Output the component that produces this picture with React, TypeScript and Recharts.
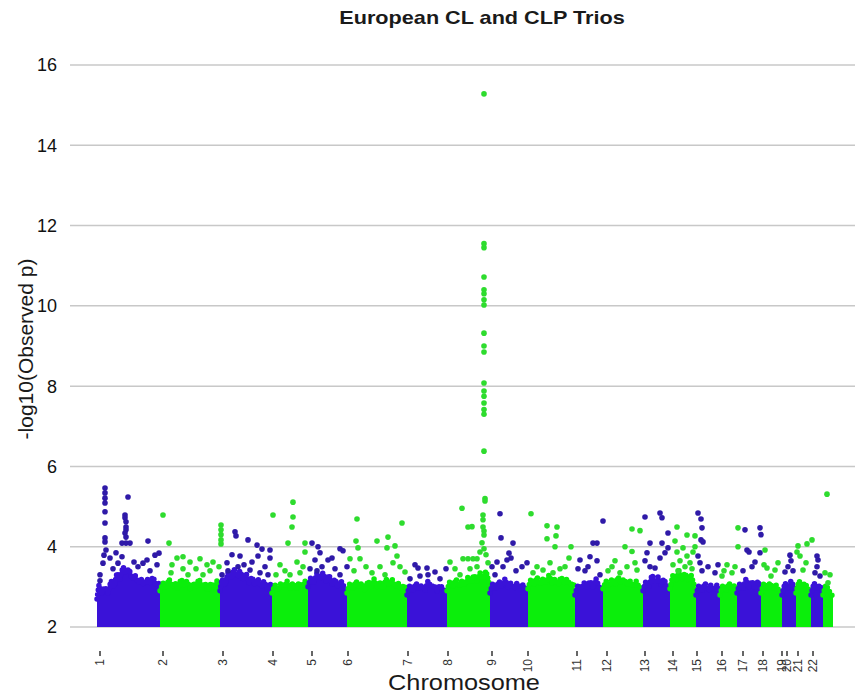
import React from "react";
import { ComposedChart, Area, Scatter, XAxis, YAxis, CartesianGrid } from "recharts";

const PURPLE = "#3a12d8";
const PURPLE_DOT = "#2f1aa8";
const GREEN = "#0bee0b";
const GREEN_DOT = "#2edc2e";

const chromosomes = [
  "1", "2", "3", "4", "5", "6", "7", "8", "9", "10", "11",
  "12", "13", "14", "15", "16", "17", "18", "19", "20", "21", "22",
];
// cumulative position of each chromosome label (genome index units)
const chrTicks = [
  100, 163, 223, 273, 312, 348, 408, 448, 492, 528, 577,
  607, 645, 673, 697, 722, 743, 763, 782, 787, 798, 813,
];
const yTicks = [2, 4, 6, 8, 10, 12, 14, 16];

// upper edge of the dense SNP cloud in each chromosome: [position, -log10 p]
const cloudTops: [number, number][][] = [
  [[97, 2.7], [99, 3.05], [102, 2.85], [105, 3.0], [108, 2.85], [111, 3.15], [114, 3.0], [117, 3.35], [120, 3.2], [123, 3.5], [126, 3.35], [129, 3.45], [132, 3.2], [135, 3.3], [138, 3.1], [141, 3.2], [144, 3.05], [147, 3.2], [150, 3.1], [153, 3.25], [156, 3.05], [160, 3.1]],
  [[160, 2.9], [163, 3.1], [166, 2.95], [169, 3.2], [172, 3.0], [175, 3.1], [178, 2.95], [181, 3.2], [184, 3.05], [187, 3.15], [190, 2.95], [193, 3.1], [196, 3.0], [199, 3.2], [202, 3.0], [205, 3.1], [208, 2.9], [211, 3.1], [214, 3.0], [217, 3.15], [220, 2.95]],
  [[220, 2.9], [222, 3.2], [225, 3.05], [228, 3.35], [231, 3.2], [234, 3.45], [237, 3.25], [240, 3.4], [243, 3.2], [246, 3.35], [249, 3.1], [252, 3.25], [255, 3.05], [258, 3.2], [261, 3.0], [264, 3.15], [267, 2.95], [270, 3.1], [272, 2.9]],
  [[272, 2.85], [275, 3.05], [278, 2.9], [281, 3.1], [284, 3.0], [287, 3.15], [290, 2.95], [293, 3.1], [296, 2.95], [299, 3.1], [302, 3.0], [305, 3.15], [308, 2.9]],
  [[308, 3.0], [311, 3.25], [314, 3.1], [317, 3.35], [320, 3.2], [323, 3.35], [326, 3.15], [329, 3.3], [332, 3.05], [335, 3.2], [338, 3.0], [341, 3.15], [344, 3.0], [347, 2.9]],
  [[347, 2.85], [350, 3.1], [353, 2.95], [356, 3.15], [359, 3.0], [362, 3.1], [365, 2.9], [368, 3.15], [371, 3.0], [374, 3.2], [377, 3.0], [380, 3.1], [383, 2.95], [386, 3.2], [389, 3.05], [392, 3.2], [395, 3.0], [398, 3.1], [401, 2.95], [404, 3.05], [407, 2.9]],
  [[407, 2.8], [410, 3.05], [413, 2.9], [416, 3.1], [419, 2.95], [422, 3.05], [425, 2.9], [428, 3.15], [431, 3.0], [434, 3.05], [437, 2.9], [440, 3.05], [443, 2.95], [447, 2.85]],
  [[447, 2.9], [450, 3.15], [453, 3.0], [456, 3.2], [459, 3.0], [462, 3.15], [465, 3.05], [468, 3.25], [471, 3.1], [474, 3.3], [477, 3.15], [480, 3.35], [483, 3.2], [486, 3.4], [490, 3.0]],
  [[490, 2.85], [493, 3.1], [496, 2.95], [499, 3.15], [502, 3.0], [505, 3.2], [508, 3.0], [511, 3.1], [514, 2.95], [517, 3.1], [520, 3.0], [523, 3.05], [526, 2.95], [528, 2.85]],
  [[528, 2.95], [531, 3.2], [534, 3.05], [537, 3.25], [540, 3.05], [543, 3.2], [546, 3.1], [549, 3.3], [552, 3.1], [555, 3.2], [558, 3.05], [561, 3.25], [564, 3.1], [567, 3.2], [570, 3.05], [573, 3.1], [575, 2.95]],
  [[575, 2.8], [578, 3.05], [581, 2.95], [584, 3.1], [587, 3.0], [590, 3.15], [593, 3.0], [596, 3.2], [599, 3.0], [603, 2.9]],
  [[603, 2.95], [606, 3.15], [609, 3.0], [612, 3.2], [615, 3.05], [618, 3.25], [621, 3.1], [624, 3.2], [627, 3.05], [630, 3.15], [633, 3.0], [636, 3.15], [639, 3.0], [643, 2.95]],
  [[643, 2.9], [646, 3.15], [649, 3.0], [652, 3.3], [655, 3.1], [658, 3.25], [661, 3.05], [664, 3.2], [667, 3.0], [670, 2.9]],
  [[670, 2.95], [673, 3.3], [676, 3.15], [679, 3.4], [682, 3.2], [685, 3.35], [688, 3.15], [691, 3.3], [694, 3.05], [696, 3.0]],
  [[696, 2.8], [699, 3.05], [702, 2.9], [705, 3.1], [708, 2.9], [711, 3.05], [714, 2.9], [717, 3.05], [720, 2.85]],
  [[720, 2.8], [723, 3.05], [726, 2.9], [729, 3.1], [732, 2.95], [735, 3.05], [737, 2.85]],
  [[737, 2.85], [740, 3.1], [743, 2.95], [746, 3.2], [749, 3.0], [752, 3.15], [755, 2.95], [758, 3.15], [761, 2.9]],
  [[761, 2.85], [764, 3.1], [767, 2.95], [770, 3.1], [773, 2.95], [776, 3.05], [779, 2.9], [782, 2.85]],
  [[782, 2.8], [785, 3.1], [788, 2.95], [791, 3.15], [794, 3.0], [796, 2.9]],
  [[796, 2.85], [799, 3.15], [802, 3.0], [805, 3.1], [808, 2.95], [811, 2.9]],
  [[811, 2.8], [814, 3.1], [817, 2.95], [820, 3.05], [823, 2.85]],
  [[823, 2.8], [826, 3.05], [829, 2.9], [833, 2.75]],
];

// SNPs standing out of the cloud, odd chromosomes
const purpleHits: [number, number][] = [
  // chr1
  [105, 5.46], [105, 5.34], [105, 5.21], [105, 5.09], [105, 4.87], [105, 4.59], [105, 4.22], [105, 4.12],
  [106, 3.92], [104, 3.79], [103, 3.59], [110, 3.72], [128, 5.24], [125, 4.79], [125, 4.72], [126, 4.62],
  [126, 4.49], [126, 4.42], [125, 4.34], [126, 4.24], [122, 4.09], [126, 4.09], [130, 4.09], [148, 4.14],
  [159, 3.84], [155, 3.79], [147, 3.67], [143, 3.59], [138, 3.5], [118, 3.59], [113, 3.45], [100, 3.3],
  [150, 3.4], [157, 3.55], [134, 3.62], [122, 3.75], [100, 3.15], [116, 3.85],
  // chr3
  [235, 4.37], [236, 4.27], [248, 4.17], [257, 4.04], [262, 3.94], [270, 3.92], [232, 3.8], [240, 3.77],
  [258, 3.77], [270, 3.72], [227, 3.6], [244, 3.55], [252, 3.62], [265, 3.5], [228, 3.4], [238, 3.5],
  [250, 3.42], [260, 3.35], [268, 3.3], [222, 3.3],
  // chr5
  [312, 4.09], [318, 4.0], [320, 3.85], [340, 3.95], [343, 3.9], [332, 3.72], [328, 3.67], [315, 3.67],
  [322, 3.5], [347, 3.5], [317, 3.4], [335, 3.45], [310, 3.45], [340, 3.3],
  // chr7
  [415, 3.55], [418, 3.47], [427, 3.47], [435, 3.37], [446, 3.45], [428, 3.3], [420, 3.27], [410, 3.2], [440, 3.2],
  // chr9
  [500, 4.82], [501, 4.22], [513, 4.09], [509, 3.84], [511, 3.72], [507, 3.67], [492, 3.5], [522, 3.5],
  [527, 3.6], [495, 3.3], [503, 3.5], [516, 3.4], [497, 3.62],
  // chr11
  [603, 4.64], [593, 4.09], [597, 4.09], [597, 3.65], [588, 3.5], [580, 3.67], [578, 3.45], [585, 3.4],
  [600, 3.3], [590, 3.75],
  // chr13
  [645, 4.74], [660, 4.84], [662, 4.72], [668, 4.34], [650, 4.09], [662, 4.09], [668, 3.97], [645, 3.65],
  [660, 3.72], [655, 3.47], [665, 3.85], [650, 3.5], [647, 3.85],
  // chr15
  [698, 4.84], [701, 4.69], [702, 4.47], [701, 4.17], [703, 4.12], [698, 3.77], [702, 3.4], [715, 3.35],
  [718, 3.55], [708, 3.5], [700, 3.6],
  // chr17
  [745, 4.42], [760, 4.47], [761, 4.3], [747, 3.92], [749, 3.87], [760, 3.85], [755, 3.62], [743, 3.4], [752, 3.5],
  // chr19, chr21
  [790, 3.79], [791, 3.65], [785, 3.37], [793, 3.4], [788, 3.5],
  [818, 3.67], [815, 3.35], [820, 3.27], [817, 3.5], [817, 3.77],
];

// SNPs standing out of the cloud, even chromosomes (incl. the 8q24 peak)
const greenHits: [number, number][] = [
  // chr2
  [163, 4.79], [169, 4.09], [221, 4.54], [221, 4.42], [221, 4.3], [221, 4.17], [221, 4.07], [172, 3.55],
  [177, 3.72], [183, 3.75], [190, 3.62], [200, 3.7], [207, 3.55], [213, 3.62], [183, 3.45], [196, 3.45],
  [171, 3.35], [210, 3.4], [219, 3.5], [188, 3.3], [203, 3.3],
  // chr4
  [273, 4.79], [293, 5.11], [293, 4.74], [292, 4.49], [288, 4.09], [305, 4.09], [305, 3.87], [303, 3.5],
  [280, 3.55], [285, 3.4], [297, 3.62], [290, 3.3], [300, 3.35], [276, 3.3],
  // chr6
  [357, 4.69], [356, 4.14], [358, 3.97], [377, 4.14], [388, 4.24], [387, 3.97], [395, 4.02], [402, 4.59],
  [350, 3.7], [360, 3.7], [380, 3.5], [397, 3.77], [393, 3.6], [405, 3.37], [366, 3.5], [372, 3.35],
  [354, 3.4], [385, 3.3], [400, 3.5],
  // chr8
  [462, 4.96], [468, 4.49], [472, 4.5], [450, 3.62], [463, 3.7], [468, 3.7], [473, 3.7], [477, 3.7],
  [477, 3.5], [480, 3.87], [455, 3.45], [460, 3.3], [470, 3.45],
  [484, 15.28], [484, 11.55], [484, 11.45], [484, 10.72], [484, 10.4], [484, 10.3], [484, 10.15], [484, 10.02],
  [484, 9.32], [484, 9.0], [484, 8.85], [484, 8.08], [484, 7.88], [484, 7.75], [484, 7.58], [484, 7.42],
  [484, 7.3], [484, 6.38], [485, 5.2], [485, 5.14], [483, 4.79], [483, 4.67], [483, 4.49], [484, 4.39],
  [484, 4.29], [482, 4.1], [484, 3.95], [486, 3.8], [488, 3.6],
  // chr10
  [531, 4.82], [547, 4.52], [557, 4.49], [556, 4.27], [547, 4.2], [555, 4.0], [571, 4.0], [569, 3.72],
  [550, 3.6], [537, 3.5], [543, 3.42], [560, 3.45], [565, 3.5], [533, 3.35], [553, 3.35],
  // chr12
  [632, 4.44], [640, 4.4], [625, 4.0], [632, 3.88], [615, 3.65], [627, 3.5], [637, 3.42], [608, 3.4],
  [620, 3.35], [612, 3.5], [635, 3.6],
  // chr14
  [677, 4.49], [687, 4.29], [695, 4.27], [675, 4.14], [683, 3.97], [693, 3.87], [677, 3.87], [687, 3.77],
  [695, 4.0], [680, 3.65], [690, 3.6], [673, 3.55], [685, 3.5], [692, 3.45], [678, 3.4],
  // chr16, chr18
  [727, 3.55], [724, 3.4], [732, 3.35], [722, 3.27], [738, 4.47], [738, 4.0], [735, 3.5],
  [765, 3.92], [767, 3.47], [775, 3.42], [771, 3.27], [778, 3.6], [764, 3.55],
  // chr20, chr22
  [812, 4.17], [807, 4.07], [798, 4.02], [797, 3.87], [800, 3.77], [803, 3.42], [806, 3.6],
  [827, 5.31], [825, 3.35], [828, 3.1], [830, 3.3],
];

const cloudRows: Record<string, number>[] = [];
cloudTops.forEach((edge, i) => {
  edge.forEach(([x, v]) => cloudRows.push({ x, ["c" + i]: v }));
});

const toPoints = (list: [number, number][]) => list.map(([x, p]) => ({ x, p }));

const dot = (color: string) => (props: any) =>
  <circle cx={props.cx} cy={props.cy} r={2.8} fill={color} />;

const ChromTick = (props: any) => {
  const { x, y, payload } = props;
  const idx = chrTicks.indexOf(payload.value);
  return (
    <g>
      <line x1={x} x2={x} y1={y + 24} y2={y + 29} stroke="#333" strokeWidth={1.5} />
      <text
        x={x + 4}
        y={y + 32}
        transform={`rotate(-90, ${x + 4}, ${y + 32})`}
        textAnchor="end"
        fontSize={12}
        fill="#333"
        fontFamily="Liberation Sans, Arial, sans-serif"
      >
        {chromosomes[idx]}
      </text>
    </g>
  );
};

const textBase: React.CSSProperties = {
  position: "absolute",
  fontFamily: "Liberation Sans, Arial, sans-serif",
  color: "#1a1a1a",
  whiteSpace: "nowrap",
  lineHeight: 1,
};

export default function App() {
  return (
    <div style={{ position: "absolute", left: 0, top: 0, width: 857, height: 694, background: "#fff" }}>
      <ComposedChart
        width={857}
        height={694}
        data={cloudRows}
        margin={{ top: 65, right: 2, bottom: 0, left: 0 }}
      >
        <CartesianGrid vertical={false} stroke="#c8c8c8" strokeWidth={1.5} />
        <XAxis
          type="number"
          dataKey="x"
          domain={[70, 855]}
          allowDataOverflow
          ticks={chrTicks}
          interval={0}
          height={67}
          axisLine={false}
          tickLine={false}
          tickSize={0}
          tickMargin={0}
          tick={<ChromTick />}
        />
        <YAxis
          type="number"
          domain={[2, 16]}
          ticks={yTicks}
          width={70}
          axisLine={false}
          tickLine={false}
          tickSize={0}
          tickMargin={13}
          tick={{ fontSize: 18, fill: "#111", fontFamily: "Liberation Sans, Arial, sans-serif" }}
        />
        {cloudTops.map((_, i) => {
          const color = i % 2 === 0 ? PURPLE : GREEN;
          return (
            <Area
              key={i}
              type="linear"
              dataKey={"c" + i}
              baseValue={2}
              fill={color}
              fillOpacity={1}
              stroke={color}
              strokeWidth={5.5}
              strokeDasharray="0 4.5"
              strokeLinecap="round"
              dot={false}
              activeDot={false}
              isAnimationActive={false}
            />
          );
        })}
        <Scatter
          data={toPoints(purpleHits)}
          dataKey="p"
          shape={dot(PURPLE_DOT)}
          isAnimationActive={false}
        />
        <Scatter
          data={toPoints(greenHits)}
          dataKey="p"
          shape={dot(GREEN_DOT)}
          isAnimationActive={false}
        />
      </ComposedChart>
      <div style={{ ...textBase, left: 482, top: 18, fontSize: 18.5, fontWeight: "bold", transform: "translate(-50%, -50%) scaleX(1.17)" }}>
        European CL and CLP Trios
      </div>
      <div style={{ ...textBase, left: 464, top: 683, fontSize: 22, transform: "translate(-50%, -50%) scaleX(1.15)" }}>
        Chromosome
      </div>
      <div style={{ ...textBase, left: 25, top: 349, fontSize: 21, transform: "translate(-50%, -50%) rotate(-90deg)" }}>
        -log10(Observed p)
      </div>
    </div>
  );
}
